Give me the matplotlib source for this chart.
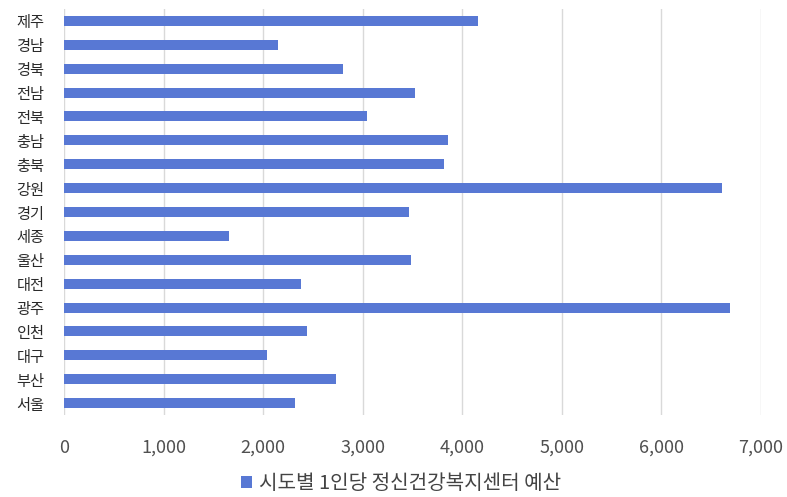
import matplotlib
matplotlib.use("Agg")
import matplotlib.pyplot as plt
from matplotlib.ticker import FuncFormatter

plt.rcParams['font.family'] = ['Noto Sans CJK KR', 'DejaVu Sans']

regions = ['서울', '부산', '대구', '인천', '광주', '대전', '울산', '세종', '경기',
           '강원', '충북', '충남', '전북', '전남', '경북', '경남', '제주']
budget = [2320, 2730, 2035, 2440, 6690, 2380, 3480, 1660, 3460,
          6610, 3815, 3855, 3040, 3530, 2800, 2150, 4155]
series_name = '시도별 1인당 정신건강복지센터 예산'
x_ticks = [0, 1000, 2000, 3000, 4000, 5000, 6000, 7000]

bar_color = '#5878D4'

fig = plt.figure(figsize=(7.87, 4.97), dpi=100)
ax = fig.add_axes([64 / 787, 82 / 497, 697 / 787, 406 / 497])

ypos = list(range(len(regions)))
ax.barh(ypos, budget, height=0.42, color=bar_color, label=series_name, zorder=3)

ax.set_xlim(0, 7000)
ax.set_ylim(-0.5, len(regions) - 0.5)
ax.set_xticks(x_ticks)
ax.xaxis.set_major_formatter(FuncFormatter(lambda v, p: f'{int(v):,}'))
ax.set_yticks(ypos)
ax.set_yticklabels(regions, fontsize=11, color='#2a2a2a')

ax.grid(axis='x', color='#d9d9d9', linewidth=1, zorder=0)
ax.grid(axis='y', visible=False)
for s in ax.spines.values():
    s.set_visible(False)
ax.tick_params(axis='both', length=0)
ax.tick_params(axis='x', labelsize=13, colors='#505050', pad=17)
ax.tick_params(axis='y', pad=14)

leg = fig.legend(loc='center', bbox_to_anchor=(0.51, 0.027), frameon=False,
                 fontsize=14.5, handlelength=0.55, handleheight=0.55, handletextpad=0.35)
for t in leg.get_texts():
    t.set_color('#444444')

fig.savefig('out.png', dpi=100)
